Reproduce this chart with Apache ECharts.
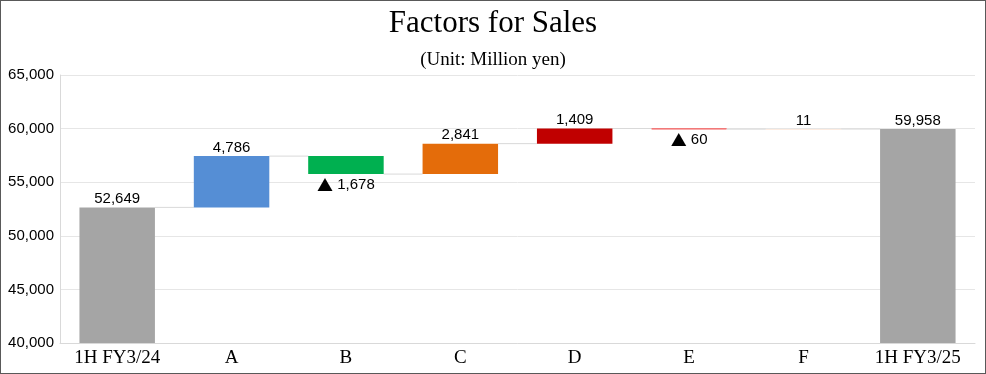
<!DOCTYPE html>
<html><head><meta charset="utf-8">
<script src="https://cdn.jsdelivr.net/npm/echarts@6/dist/echarts.min.js"></script>
<style>
html,body{margin:0;padding:0;background:#fff;}
#c{position:absolute;left:0;top:0;width:984px;height:372px;border:1px solid #595959;}
</style></head>
<body><div id="c"></div>
<script>
const categories = ['1H FY3/24','A','B','C','D','E','F','1H FY3/25'];
const values = [52649, 4786, -1678, 2841, 1409, -60, 11, 59958];
const isTotal = [true,false,false,false,false,false,false,true];
const colors = ['#A5A5A5','#558ED5','#00B050','#E46C0A','#C00000','#F36B6B','#F4B183','#A5A5A5'];
const yTicks = {min:40000, max:65000, interval:5000};

const base = [], delta = [], levels = [];
let cum = 0;
values.forEach((v,i)=>{
  if (isTotal[i]) { base.push(0); delta.push(v); cum = v; }
  else if (v >= 0) { base.push(cum); delta.push(v); cum += v; }
  else { base.push(cum + v); delta.push(-v); cum += v; }
  levels.push(cum);
});
const fmt = n => n.toLocaleString('en-US');
const connectors = levels.slice(0,-1).map((l,i)=>[i,l]);

const chart = echarts.init(document.getElementById('c'));
chart.setOption({
  animation:false,
  title:[
    {text:'Factors for Sales', left:'center', top:2, textStyle:{fontFamily:'Liberation Serif', fontSize:31, fontWeight:'normal', color:'#000'}},
    {text:'(Unit: Million yen)', left:'center', top:45, textStyle:{fontFamily:'Liberation Serif', fontSize:19, fontWeight:'normal', color:'#000'}}
  ],
  grid:{left:59, right:10, top:74, bottom:30},
  xAxis:{type:'category', data:categories,
    axisLine:{lineStyle:{color:'#D9D9D9'}}, axisTick:{show:false},
    axisLabel:{fontFamily:'Liberation Serif', fontSize:19, color:'#000', margin:6}},
  yAxis:{type:'value', min:yTicks.min, max:yTicks.max, interval:yTicks.interval,
    axisLine:{show:true, lineStyle:{color:'#D9D9D9'}},
    splitLine:{lineStyle:{color:'#E6E6E6'}},
    axisLabel:{fontFamily:'Liberation Sans', fontSize:15, color:'#000', margin:6, formatter:v=>fmt(v)}},
  series:[
    {type:'bar', stack:'w', data:base, barWidth:'66%', itemStyle:{color:'transparent'}, silent:true},
    {type:'bar', stack:'w', barWidth:'66%',
      data:delta.map((d,i)=>({value:d,
        itemStyle: i===5 ? {color:colors[i], borderColor:colors[i], borderWidth:1} : {color:colors[i]},
        label:{show:true, position: values[i]<0 ? 'bottom':'top', distance: values[i]<0 ? 3 : 1,
          formatter: values[i]<0 ? '{t|▲} '+fmt(-values[i]) : fmt(values[i])}})),
      label:{fontFamily:'Liberation Sans', fontSize:15, color:'#000',
        rich:{t:{fontFamily:'Noto Sans CJK JP', fontSize:16, color:'#000'}}}},
    {type:'custom', data:connectors, z:1, silent:true,
      renderItem:(params, api)=>{
        const i = api.value(0), l = api.value(1);
        const p0 = api.coord([i,l]), p1 = api.coord([i+1,l]);
        const bw = api.size([1,0])[0]*0.66;
        return {type:'line', shape:{x1:p0[0]+bw/2, y1:p0[1], x2:p1[0]-bw/2, y2:p1[1]},
          style:{stroke:'#D9D9D9', lineWidth:1}};
      }}
  ]
});
</script></body></html>
